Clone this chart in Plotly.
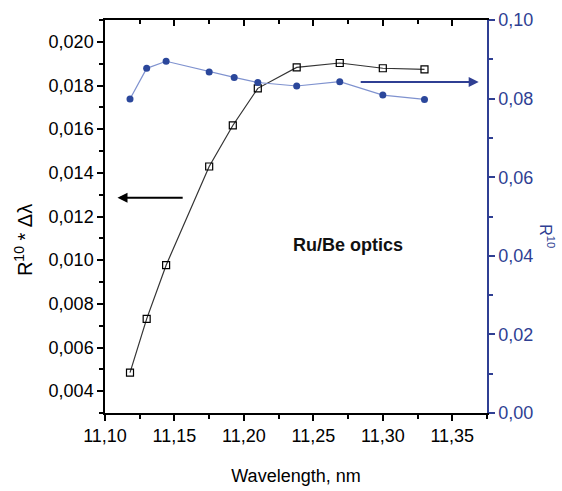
import plotly.graph_objects as go

# Data
wavelength_sq = [11.118, 11.130, 11.144, 11.175, 11.192, 11.210, 11.238, 11.269, 11.300, 11.330]
r10_dl = [0.00485, 0.00731, 0.00977, 0.01429, 0.01617, 0.01787, 0.01883, 0.01903, 0.01879, 0.01874]

wavelength_c = [11.118, 11.130, 11.144, 11.175, 11.193, 11.210, 11.238, 11.269, 11.300, 11.330]
r10 = [0.0799, 0.0877, 0.0895, 0.0868, 0.0854, 0.0841, 0.0832, 0.0843, 0.0809, 0.0798]

x_ticks = [11.10, 11.15, 11.20, 11.25, 11.30, 11.35]
x_labels = ["11,10", "11,15", "11,20", "11,25", "11,30", "11,35"]
yl_ticks = [0.004, 0.006, 0.008, 0.010, 0.012, 0.014, 0.016, 0.018, 0.020]
yl_labels = ["0,004", "0,006", "0,008", "0,010", "0,012", "0,014", "0,016", "0,018", "0,020"]
yr_ticks = [0.00, 0.02, 0.04, 0.06, 0.08, 0.10]
yr_labels = ["0,00", "0,02", "0,04", "0,06", "0,08", "0,10"]

BLUE = "#2f3f93"
FONT = "Liberation Sans, Arial, sans-serif"

fig = go.Figure()
fig.add_trace(go.Scatter(
    x=wavelength_sq, y=r10_dl, mode="lines+markers",
    line=dict(color="#333333", width=1.2),
    marker=dict(symbol="square-open", size=7, color="black", line=dict(width=1.2)),
    xaxis="x", yaxis="y", showlegend=False))
fig.add_trace(go.Scatter(
    x=wavelength_c, y=r10, mode="lines+markers",
    line=dict(color="#7f92cf", width=1.2),
    marker=dict(symbol="circle", size=7, color="#2b479b"),
    xaxis="x", yaxis="y2", showlegend=False))

fig.update_layout(
    width=562, height=491,
    margin=dict(l=105, r=75, t=20, b=78),
    paper_bgcolor="white", plot_bgcolor="white",
    font=dict(family=FONT, size=18, color="black"),
    xaxis=dict(
        range=[11.10, 11.375], tickvals=x_ticks, ticktext=x_labels, automargin=False,
        ticks="outside", ticklen=6, tickwidth=1.5, tickcolor="black",
        minor=dict(dtick=0.025, tick0=11.10, ticks="outside", ticklen=4, tickcolor="black"),
        showline=True, linecolor="black", linewidth=1.5, showgrid=False, zeroline=False,
        title=dict(text="Wavelength, nm", font=dict(size=18), standoff=24),
        tickfont=dict(size=18)),
    xaxis2=dict(
        range=[11.10, 11.375], overlaying="x", side="top", tickvals=x_ticks, automargin=False,
        showticklabels=False, ticks="inside", ticklen=6, tickwidth=1.5, tickcolor="black",
        minor=dict(dtick=0.025, tick0=11.10, ticks="inside", ticklen=4, tickcolor="black"),
        showline=True, linecolor="black", linewidth=1.5, showgrid=False, zeroline=False),
    yaxis=dict(
        range=[0.003, 0.021], tickvals=yl_ticks, ticktext=yl_labels, automargin=False,
        ticks="outside", ticklen=6, tickwidth=1.5, tickcolor="black",
        minor=dict(dtick=0.001, tick0=0.003, ticks="outside", ticklen=4, tickcolor="black"),
        showline=True, linecolor="black", linewidth=1.5, showgrid=False, zeroline=False,
        tickfont=dict(size=18)),
    yaxis2=dict(
        range=[0, 0.10], overlaying="y", side="right", tickvals=yr_ticks, ticktext=yr_labels,
        automargin=False,
        ticks="outside", ticklen=6, tickwidth=1.5, tickcolor=BLUE,
        minor=dict(dtick=0.01, tick0=0, ticks="outside", ticklen=4, tickcolor=BLUE),
        showline=True, linecolor=BLUE, linewidth=1.5, showgrid=False, zeroline=False,
        tickfont=dict(size=18, color=BLUE)),
)

# invisible trace so the top mirror axis is drawn
fig.add_trace(go.Scatter(x=[11.10], y=[0.003], xaxis="x2", yaxis="y",
                         mode="markers", marker=dict(opacity=0), showlegend=False,
                         hoverinfo="skip"))

fig.add_annotation(xref="x", yref="y", x=11.109, y=0.01286, ax=11.157, ay=0.01286,
                   axref="x", ayref="y", showarrow=True, arrowhead=2, arrowsize=1,
                   arrowwidth=2, arrowcolor="black", text="")
fig.add_annotation(xref="x", yref="y2", x=11.369, y=0.0842, ax=11.283, ay=0.0842,
                   axref="x", ayref="y2", showarrow=True, arrowhead=2, arrowsize=1,
                   arrowwidth=2, arrowcolor=BLUE, text="")
fig.add_annotation(xref="x", yref="y", x=11.275, y=0.0107, showarrow=False,
                   text="<b>Ru/Be optics</b>", font=dict(size=18, color="#111111"))
# left axis title
fig.add_annotation(xref="paper", yref="paper", x=0, xshift=-82, y=0.44,
                   xanchor="center", yanchor="middle", showarrow=False,
                   text="R<sup>10</sup> * Δλ", textangle=-90,
                   font=dict(size=20, color="black"))
# right axis title
fig.add_annotation(xref="paper", yref="paper", x=1.0, xshift=60, y=0.45,
                   xanchor="center", yanchor="middle", showarrow=False,
                   text="R<sup>10</sup>", textangle=90,
                   font=dict(size=16, color=BLUE))

fig.write_html("out.html")
